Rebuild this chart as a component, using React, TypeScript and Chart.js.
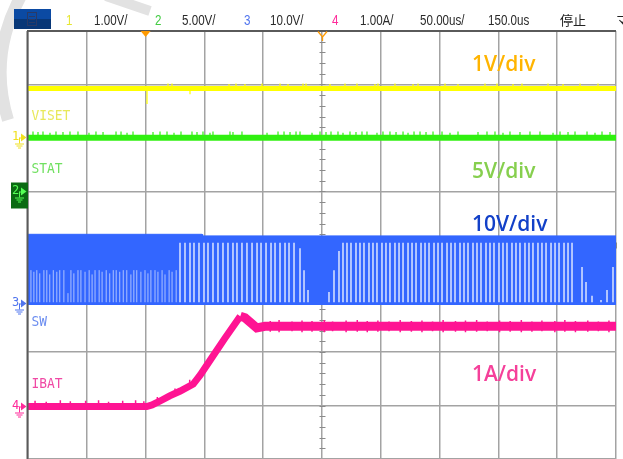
import React, { useEffect, useRef } from "react";
import { Chart, registerables } from "chart.js";

Chart.register(...registerables);

// ---------------- data ----------------
// x: time in divisions (50 us/div, 10 div), y: screen divisions (0 = bottom, 8 = top)
const headerLabels = ["1", "1.00V/", "2", "5.00V/", "3", "10.0V/", "4", "1.00A/", "50.00us/", "150.0us", "停止", "マ"];
const channelNames = ["VISET", "STAT", "SW", "IBAT"];
const channelNameX = [0.06, 0.06, 0.06, 0.06];
const channelNameY = [6.41, 5.42, 2.56, 1.4];
const scaleLabels = ["1V/div", "5V/div", "10V/div", "1A/div"];
const scaleLabelX = [7.55, 7.55, 7.55, 7.55];
const scaleLabelY = [7.36, 5.36, 4.37, 1.57];
const groundLevels = [6.02, 5.01, 2.92, 0.99];
const triggerPositions = [2.0, 5.0];

// CH1 VISET
const visetX = [0, 10];
const visetY = [6.925, 6.925];
const visetSpikeX = [2.024, 2.755, 2.381, 2.449, 3.418, 3.537, 3.69, 3.98, 4.286, 4.422, 4.677, 4.728, 5.136, 5.391, 5.595, 5.901, 5.952, 6.241, 6.548, 6.633, 7.092, 7.313, 7.772, 7.976, 8.248, 8.401, 8.844, 9.099, 9.388, 9.694];
const visetSpikeY = [6.636, 6.82, 7.02, 7.02, 7.01, 7.02, 7.01, 7.02, 7.02, 7.01, 7.02, 7.02, 7.01, 7.02, 7.02, 7.01, 7.02, 7.02, 7.01, 7.02, 7.02, 7.01, 7.02, 7.02, 7.01, 7.02, 7.02, 7.01, 7.02, 7.02];

// CH2 STAT
const statX = [0, 10];
const statY = [6.005, 6.005];
const statSpikeX = [0.085, 0.17, 0.255, 0.374, 0.476, 0.595, 0.714, 0.85, 1.037, 1.156, 1.276, 1.497, 1.582, 1.684, 1.786, 2.126, 2.245, 2.364, 2.483, 2.602, 2.789, 2.874, 2.976, 3.095, 3.146, 3.435, 3.486, 3.639, 4.065, 4.252, 4.354, 4.456, 4.558, 4.626, 4.83, 4.966, 5.068, 5.153, 5.272, 5.357, 5.476, 5.578, 5.68, 5.765, 5.935, 6.037, 6.156, 6.259, 6.378, 6.463, 6.565, 6.667, 6.769, 6.888, 7.041, 7.177, 7.313, 7.653, 7.806, 7.942, 8.078, 8.197, 8.367, 8.537, 8.707, 8.929, 9.048, 9.184, 9.303, 9.507, 9.643, 9.762, 9.898];
const statSpikeY = [6.12, 6.11, 6.12, 6.1, 6.12, 6.11, 6.12, 6.12, 6.1, 6.12, 6.11, 6.12, 6.12, 6.1, 6.12, 6.11, 6.12, 6.12, 6.1, 6.12, 6.12, 6.11, 6.12, 6.1, 6.12, 6.12, 6.11, 6.12, 6.1, 6.12, 6.12, 6.11, 6.12, 6.12, 6.1, 6.12, 6.11, 6.12, 6.12, 6.1, 6.12, 6.11, 6.12, 6.12, 6.1, 6.12, 6.12, 6.11, 6.12, 6.1, 6.12, 6.12, 6.11, 6.12, 6.12, 6.1, 6.12, 6.11, 6.12, 6.12, 6.1, 6.12, 6.11, 6.12, 6.12, 6.1, 6.12, 6.11, 6.12, 6.12, 6.1, 6.12, 6.11];

// CH3 SW (switching node): envelope + gaps between pulses
const swTopX = [0, 2.96, 2.97, 10];
const swTopY = [4.2, 4.2, 4.17, 4.17];
const swBase = [2.879];
const swGapBottom = [2.93];
const swLeftGapX = [0.05, 0.1, 0.15, 0.2, 0.27, 0.32, 0.37, 0.43, 0.49, 0.54, 0.61, 0.68, 0.73, 0.78, 0.85, 0.9, 0.97, 1.04, 1.09, 1.14, 1.21, 1.26, 1.33, 1.39, 1.45, 1.5, 1.56, 1.62, 1.68, 1.75, 1.8, 1.85, 1.92, 1.99, 2.04, 2.09, 2.16, 2.21, 2.28, 2.33, 2.4, 2.45, 2.52];
const swLeftGapTop = [3.53, 3.5, 3.53, 3.47, 3.53, 3.53, 3.45, 3.53, 3.5, 3.53, 3.53, 3.1, 3.53, 3.47, 3.53, 3.53, 3.5, 3.53, 3.45, 3.53, 3.53, 3.5, 3.53, 3.47, 3.53, 3.53, 3.5, 3.53, 3.53, 3.45, 3.53, 3.53, 3.5, 3.53, 3.47, 3.53, 3.53, 3.5, 3.53, 3.45, 3.53, 3.5, 3.53];
const swGapX = [2.585, 2.67, 2.755, 2.823, 2.908, 2.993, 3.061, 3.146, 3.231, 3.316, 3.401, 3.486, 3.554, 3.639, 3.724, 3.81, 3.895, 3.963, 4.048, 4.133, 4.201, 4.286, 4.371, 4.439, 4.524, 4.626, 4.694, 4.762, 5.119, 5.204, 5.289, 5.357, 5.425, 5.493, 5.578, 5.646, 5.714, 5.799, 5.867, 5.935, 6.02, 6.088, 6.156, 6.241, 6.31, 6.378, 6.463, 6.531, 6.599, 6.684, 6.752, 6.82, 6.905, 6.973, 7.041, 7.126, 7.194, 7.262, 7.347, 7.415, 7.483, 7.568, 7.636, 7.704, 7.789, 7.857, 7.925, 8.01, 8.078, 8.146, 8.231, 8.299, 8.367, 8.452, 8.52, 8.588, 8.673, 8.741, 8.81, 8.895, 8.963, 9.031, 9.116, 9.184, 9.252, 9.422, 9.49, 9.592, 9.745, 9.847, 9.949];
const swGapTop = [4.04, 4.04, 4.04, 4.04, 4.04, 4.04, 4.04, 4.04, 4.04, 4.04, 4.04, 4.04, 4.04, 4.04, 4.04, 4.04, 4.04, 4.04, 4.04, 4.04, 4.04, 4.04, 4.04, 4.04, 4.04, 3.94, 3.53, 3.16, 3.12, 3.53, 3.89, 4.04, 4.04, 4.04, 4.04, 4.04, 4.04, 4.04, 4.04, 4.04, 4.04, 4.04, 4.04, 4.04, 4.04, 4.04, 4.04, 4.04, 4.04, 4.04, 4.04, 4.04, 4.04, 4.04, 4.04, 4.04, 4.04, 4.04, 4.04, 4.04, 4.04, 4.04, 4.04, 4.04, 4.04, 4.04, 4.04, 4.04, 4.04, 4.04, 4.04, 4.04, 4.04, 4.04, 4.04, 4.04, 4.04, 4.04, 4.04, 4.04, 4.04, 4.04, 4.04, 4.04, 4.04, 3.59, 3.31, 3.05, 2.97, 3.16, 3.59];

// CH4 IBAT
const ibatX = [0, 2.02, 2.11, 2.24, 2.41, 2.59, 2.81, 2.93, 3.1, 3.35, 3.61, 3.69, 3.89, 4.03, 10];
const ibatY = [0.98, 0.98, 1.01, 1.08, 1.18, 1.27, 1.4, 1.57, 1.85, 2.26, 2.67, 2.64, 2.45, 2.48, 2.48];
// IBAT noise excursions (vertical ripple spikes)
const ibatNoiseX = [0.12, 0.31, 0.55, 0.72, 0.98, 1.2, 1.37, 1.61, 1.83, 1.97, 2.2, 2.5, 2.75, 4.12, 4.27, 4.49, 4.66, 4.83, 5.04, 5.18, 5.41, 5.6, 5.77, 5.95, 6.14, 6.33, 6.52, 6.7, 6.88, 7.06, 7.27, 7.44, 7.63, 7.81, 8.02, 8.2, 8.39, 8.57, 8.74, 8.96, 9.13, 9.31, 9.52, 9.7, 9.88];
const ibatNoiseLo = [0.95, 0.95, 0.95, 0.95, 0.95, 0.95, 0.95, 0.95, 0.95, 0.95, 1.05, 1.2, 1.34, 2.38, 2.37, 2.39, 2.37, 2.38, 2.37, 2.39, 2.37, 2.38, 2.37, 2.38, 2.39, 2.37, 2.38, 2.37, 2.39, 2.37, 2.38, 2.37, 2.38, 2.39, 2.37, 2.38, 2.37, 2.38, 2.39, 2.37, 2.38, 2.37, 2.38, 2.39, 2.37];
const ibatNoiseHi = [1.09, 1.07, 1.1, 1.08, 1.09, 1.1, 1.07, 1.09, 1.1, 1.08, 1.16, 1.32, 1.48, 2.58, 2.6, 2.57, 2.59, 2.58, 2.6, 2.57, 2.59, 2.6, 2.58, 2.59, 2.57, 2.6, 2.58, 2.59, 2.57, 2.6, 2.58, 2.59, 2.6, 2.57, 2.59, 2.58, 2.6, 2.57, 2.59, 2.58, 2.6, 2.58, 2.59, 2.57, 2.59];

// ---------------- styling ----------------
const YELLOW = "#ffff00";
const GREEN = "#30f010";
const BLUE = "#3366ff";
const MAGENTA = "#ff1493";
const ORANGE = "#ff9a00";

const zip = (xs: number[], ys: number[]) => xs.map((x, i) => ({ x, y: ys[i] }));
const vSegments = (xs: number[], from: number | number[], tops: number[]) => {
  const pts: any[] = [];
  xs.forEach((x, i) => {
    const f = Array.isArray(from) ? from[i] : from;
    pts.push({ x, y: f }, { x, y: tops[i] }, { x, y: null });
  });
  return pts;
};

const lineDs = (data: any[], color: string, width: number, extra: any = {}) => ({
  type: "line",
  data,
  borderColor: color,
  backgroundColor: color,
  borderWidth: width,
  pointRadius: 0,
  pointHoverRadius: 0,
  fill: false,
  tension: 0,
  spanGaps: false,
  ...extra,
});

function condensedText(ctx: CanvasRenderingContext2D, t: string, x: number, y: number, sx: number) {
  ctx.save();
  ctx.translate(x, y);
  ctx.scale(sx, 1);
  ctx.fillText(t, 0, 0);
  ctx.restore();
}

function groundMarker(ctx: CanvasRenderingContext2D, label: string, color: string, py: number, boxed: boolean) {
  ctx.save();
  if (boxed) {
    ctx.fillStyle = "#0a6a12";
    ctx.fillRect(11, py - 9, 17, 26);
  }
  ctx.fillStyle = color;
  ctx.strokeStyle = color;
  ctx.font = "12px 'DejaVu Sans Mono'";
  ctx.textBaseline = "middle";
  ctx.textAlign = "left";
  ctx.fillText(label, 12, py - 1);
  ctx.beginPath();
  ctx.moveTo(21, py - 4);
  ctx.lineTo(26.5, py);
  ctx.lineTo(21, py + 4);
  ctx.closePath();
  ctx.fill();
  ctx.lineWidth = 1;
  ctx.beginPath();
  ctx.moveTo(19.5, py);
  ctx.lineTo(19.5, py + 6);
  ctx.moveTo(19.5, py + 0.5);
  ctx.lineTo(22, py + 0.5);
  ctx.moveTo(15, py + 6.5);
  ctx.lineTo(24, py + 6.5);
  ctx.moveTo(16.5, py + 8.5);
  ctx.lineTo(22.5, py + 8.5);
  ctx.moveTo(18, py + 10.5);
  ctx.lineTo(21, py + 10.5);
  ctx.stroke();
  ctx.restore();
}

const scopePlugin = {
  id: "scopeDecor",
  beforeDraw(chart: any) {
    const ctx: CanvasRenderingContext2D = chart.ctx;
    ctx.save();
    ctx.fillStyle = "#ffffff";
    ctx.fillRect(0, 0, chart.width, chart.height);
    // faint watermark fragments
    ctx.strokeStyle = "#e2e2e2";
    ctx.lineWidth = 12;
    ctx.beginPath();
    ctx.moveTo(22, -6);
    ctx.quadraticCurveTo(-12, 55, 8, 120);
    ctx.stroke();
    ctx.lineWidth = 10;
    ctx.beginPath();
    ctx.moveTo(106, -4);
    ctx.lineTo(150, 11);
    ctx.stroke();
    ctx.restore();
  },
  beforeDatasetsDraw(chart: any) {
    const ctx: CanvasRenderingContext2D = chart.ctx;
    const { x, y } = chart.scales;
    const cx = Math.round(x.getPixelForValue(5)) + 0.5;
    const cy = Math.round(y.getPixelForValue(4)) + 0.5;
    ctx.save();
    ctx.strokeStyle = "#8a8a8a";
    ctx.lineWidth = 1;
    ctx.beginPath();
    for (let v = 0; v <= 8.001; v += 0.2) {
      const py = Math.round(y.getPixelForValue(v)) + 0.5;
      ctx.moveTo(cx - 3, py);
      ctx.lineTo(cx + 3, py);
    }
    for (let u = 0; u <= 10.001; u += 0.2) {
      const px = Math.round(x.getPixelForValue(u)) + 0.5;
      ctx.moveTo(px, cy - 3);
      ctx.lineTo(px, cy + 3);
    }
    ctx.stroke();
    ctx.restore();
  },
  afterDraw(chart: any) {
    const ctx: CanvasRenderingContext2D = chart.ctx;
    const { x, y } = chart.scales;
    const a = chart.chartArea;
    ctx.save();
    // borders
    ctx.strokeStyle = "#5a5a5a";
    ctx.lineWidth = 2;
    ctx.beginPath();
    ctx.moveTo(a.left - 1, a.top);
    ctx.lineTo(a.right, a.top);
    ctx.moveTo(a.left - 0.5, a.top);
    ctx.lineTo(a.left - 0.5, chart.height);
    ctx.stroke();

    // trigger markers
    ctx.fillStyle = ORANGE;
    ctx.strokeStyle = ORANGE;
    const t0 = x.getPixelForValue(triggerPositions[0]);
    ctx.beginPath();
    ctx.moveTo(t0 - 5, a.top);
    ctx.lineTo(t0 + 5, a.top);
    ctx.lineTo(t0, a.top + 6);
    ctx.closePath();
    ctx.fill();
    const t1 = Math.round(x.getPixelForValue(triggerPositions[1])) + 0.5;
    ctx.lineWidth = 1.3;
    ctx.beginPath();
    ctx.moveTo(t1 - 4.5, a.top + 0.5);
    ctx.lineTo(t1, a.top + 6);
    ctx.lineTo(t1 + 4.5, a.top + 0.5);
    ctx.moveTo(t1, a.top + 6);
    ctx.lineTo(t1, a.top + 10);
    ctx.stroke();

    // channel names
    const nameColors = ["#e8e85a", "#70e060", "#6a8cf0", "#f04aa5"];
    ctx.font = "14px 'DejaVu Sans Mono'";
    ctx.textBaseline = "middle";
    ctx.textAlign = "left";
    channelNames.forEach((n, i) => {
      ctx.fillStyle = nameColors[i];
      condensedText(ctx, n, x.getPixelForValue(channelNameX[i]), y.getPixelForValue(channelNameY[i]), 0.92);
    });

    // scale labels
    const scaleColors = ["#ffb400", "#86cf4e", "#1240c8", "#f5409a"];
    ctx.font = "600 21px 'Open Sans'";
    scaleLabels.forEach((n, i) => {
      ctx.fillStyle = scaleColors[i];
      ctx.fillText(n, x.getPixelForValue(scaleLabelX[i]), y.getPixelForValue(scaleLabelY[i]));
    });

    // ground reference markers
    const gColors = ["#f0e020", "#55ff55", "#4f74ee", "#ff2a9a"];
    groundLevels.forEach((g, i) => {
      groundMarker(ctx, String(i + 1), gColors[i], Math.round(y.getPixelForValue(g)) + 0.5, i === 1);
    });

    // header bar
    ctx.fillStyle = "#0b4aa3";
    ctx.fillRect(14, 9, 37, 10);
    ctx.fillStyle = "#083777";
    ctx.fillRect(14, 19, 37, 10);
    ctx.strokeStyle = "#2a3a66";
    ctx.lineWidth = 1;
    ctx.strokeRect(27.5, 12.5, 9, 13);
    ctx.beginPath();
    [16.5, 19.5, 22.5].forEach((yy) => {
      ctx.moveTo(29, yy);
      ctx.lineTo(35, yy);
    });
    ctx.stroke();

    const hx = [66, 94, 155, 182, 244, 270, 332, 360, 420, 488, 560, 616];
    const hc = ["#e6e630", "#2a2a2a", "#44cc44", "#2a2a2a", "#4f74ee", "#2a2a2a", "#ff2a9a", "#2a2a2a", "#2a2a2a", "#2a2a2a", "#222222", "#222222"];
    ctx.textBaseline = "middle";
    headerLabels.forEach((t, i) => {
      ctx.fillStyle = hc[i];
      if (i >= 10) {
        ctx.font = "13px 'Noto Sans CJK JP'";
        ctx.fillText(t, hx[i], 20);
      } else {
        ctx.font = "14.5px 'Liberation Sans'";
        condensedText(ctx, t, hx[i], 20.5, 0.8);
      }
    });
    ctx.restore();
  },
};

export default function App() {
  const ref = useRef<HTMLCanvasElement | null>(null);

  useEffect(() => {
    if (!ref.current) return;
    const chart = new Chart(ref.current, {
      type: "line",
      data: {
        datasets: [
          lineDs(vSegments(visetSpikeX, 6.93, visetSpikeY), YELLOW, 1.2),
          lineDs(zip(visetX, visetY), YELLOW, 5),
          lineDs(vSegments(statSpikeX, 6.04, statSpikeY), GREEN, 1.2),
          lineDs(zip(statX, statY), GREEN, 6),
          lineDs(vSegments(ibatNoiseX, ibatNoiseLo, ibatNoiseHi), MAGENTA, 1.5),
          lineDs(zip(ibatX, ibatY), MAGENTA, 7, {
            segment: { borderWidth: (c: any) => (c.p0.parsed.x >= 3.6 ? 9 : 7) },
          }),
          lineDs(vSegments(swGapX, swGapBottom[0], swGapTop), "rgba(255,255,255,0.95)", 1.3),
          lineDs(vSegments(swLeftGapX, swGapBottom[0], swLeftGapTop), "rgba(255,255,255,0.6)", 1),
          lineDs(zip(swTopX, swTopY), BLUE, 1, { fill: { value: swBase[0] } }),
        ] as any,
      },
      options: {
        responsive: false,
        animation: false,
        devicePixelRatio: 1,
        layout: { padding: { left: 28, top: 31, right: 7, bottom: 0 } },
        plugins: { legend: { display: false }, tooltip: { enabled: false } },
        events: [],
        scales: {
          x: {
            type: "linear",
            min: 0,
            max: 10,
            offset: false,
            ticks: { display: false, stepSize: 1 },
            grid: { color: "#a3a3a3", lineWidth: 1.5, drawTicks: false, offset: false },
            border: { display: false },
            afterFit: (s: any) => { s.height = 0; },
          },
          y: {
            type: "linear",
            min: 0,
            max: 8,
            ticks: { display: false, stepSize: 1 },
            grid: { color: "#a3a3a3", lineWidth: 1.5, drawTicks: false },
            border: { display: false },
            afterFit: (s: any) => { s.width = 0; },
          },
        },
      } as any,
      plugins: [scopePlugin],
    });
    return () => chart.destroy();
  }, []);

  return (
    <div style={{ position: "absolute", left: 0, top: 0, width: 623, height: 459 }}>
      <canvas ref={ref} width={623} height={459} />
    </div>
  );
}
